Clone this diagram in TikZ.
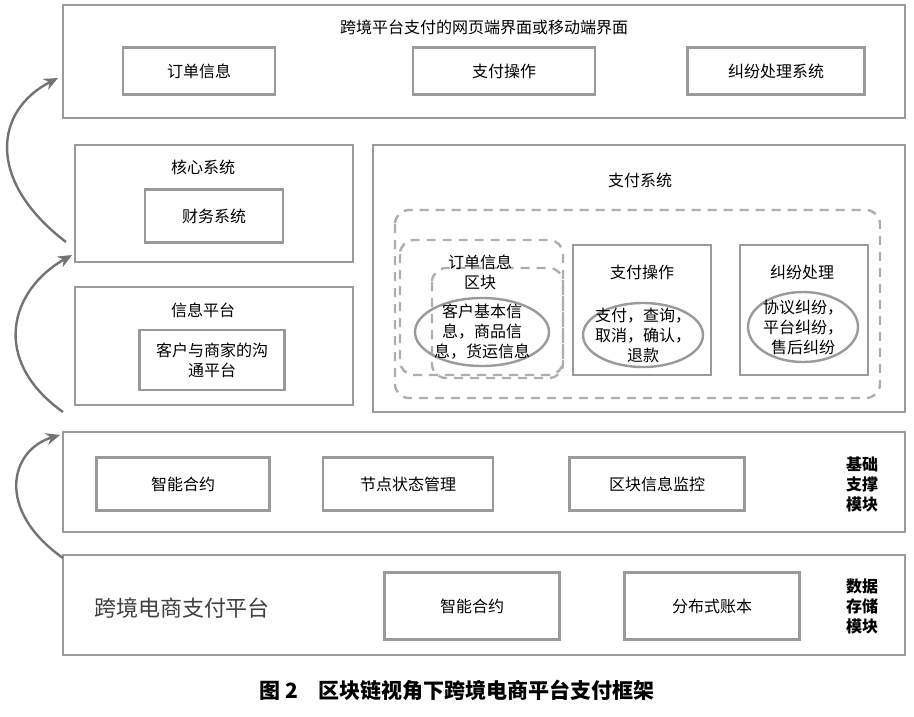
\documentclass[tikz,border=0pt]{standalone}
\usepackage{fontspec}
\setmainfont{Noto Sans CJK SC}
\usetikzlibrary{positioning,arrows.meta,shapes.geometric}
\definecolor{frame}{HTML}{9A9A9A}
\tikzset{
  box/.style={draw=frame,line width=2.4pt,inner sep=0pt},
  dbox/.style={draw=frame!80,line width=2.4pt,dashed,dash pattern=on 9pt off 7pt,rounded corners=14pt},
  oval/.style={draw=frame,line width=2.4pt,ellipse},
  lbl/.style={font=\fontsize{16}{20}\selectfont,align=center},
  flow/.style={draw=gray!90!black,line width=2.4pt,-{Stealth[length=14pt,width=12pt]}}
}
\begin{document}
\begin{tikzpicture}[x=1pt,y=-1pt]
  \useasboundingbox (0,0) rectangle (914,716);
  \fill[white] (0,0) rectangle (914,716);

  %%%% Top: web / mobile interface
  \draw[box] (63,5) rectangle (905,118);
  \node[lbl] (ui) at (484,27) {跨境平台支付的网页端界面或移动端界面};
  \node[box,lbl,minimum width=152pt,minimum height=47pt] (order) at (199,71) {订单信息};
  \node[box,lbl,minimum width=182pt,minimum height=47pt] (pay) at (504,71) {支付操作};
  \node[box,lbl,minimum width=177pt,minimum height=47pt] (dispute) at (776,71) {纠纷处理系统};

  %%%% Core system
  \draw[box] (75,145) rectangle (353,262);
  \node[lbl] (core) at (203,167) {核心系统};
  \node[box,lbl,minimum width=138pt,minimum height=53pt] (finance) at (214,216) {财务系统};

  %%%% Info platform
  \draw[box] (75,287) rectangle (353,405);
  \node[lbl] (info) at (203,310) {信息平台};
  \node[box,lbl,minimum width=145pt,minimum height=60pt] (comm) at (212,360) {客户与商家的沟\\通平台};

  %%%% Payment system
  \draw[box] (373,145) rectangle (905,412);
  \node[lbl] (paysys) at (640,180) {支付系统};
  \draw[dbox] (395,210) rectangle (880,398);
  \draw[dbox] (400,240) rectangle (563,375);
  \draw[dbox] (432,268) rectangle (563,378);
  \node[lbl] (blk) at (480,272) {订单信息\\区块};
  \node[oval,minimum width=134pt,minimum height=68pt] (blkov) at (482,332) {};
  \node[lbl] at (blkov) {客户基本信\\息，商品信\\息，货运信息};

  \draw[box] (573,245) rectangle (711,375);
  \node[lbl] (op) at (642,272) {支付操作};
  \node[oval,minimum width=120pt,minimum height=64pt] (opov) at (643,335) {};
  \node[lbl] at (opov) {支付，查询，\\取消，确认，\\退款};

  \draw[box] (740,245) rectangle (868,375);
  \node[lbl] (dp) at (802,272) {纠纷处理};
  \node[oval,minimum width=110pt,minimum height=70pt] (dpov) at (803,327) {};
  \node[lbl] at (dpov) {协议纠纷，\\平台纠纷，\\售后纠纷};

  %%%% Base support module
  \draw[box] (63,432) rectangle (905,532);
  \node[box,lbl,minimum width=173pt,minimum height=53pt] (contract) at (183,484) {智能合约};
  \node[box,lbl,minimum width=170pt,minimum height=53pt] (node) at (408,484) {节点状态管理};
  \node[box,lbl,minimum width=175pt,minimum height=53pt] (monitor) at (657,484) {区块信息监控};
  \node[lbl,font=\fontsize{16}{20}\selectfont\bfseries] (base) at (862,484) {基础\\支撑\\模块};

  %%%% Data storage module
  \draw[box] (63,555) rectangle (905,655);
  \node[font=\fontsize{22}{26}\selectfont,text=gray!50!black] (plat) at (182,608) {跨境电商支付平台};
  \node[box,lbl,minimum width=175pt,minimum height=67pt] (contract2) at (472,606) {智能合约};
  \node[box,lbl,minimum width=175pt,minimum height=67pt] (ledger) at (712,606) {分布式账本};
  \node[lbl,font=\fontsize{16}{20}\selectfont\bfseries] (store) at (862,606) {数据\\存储\\模块};

  %%%% flow arrows
  \coordinate (a1) at (63,558);  \coordinate (b1) at (60,435);
  \coordinate (a2) at (63,412);  \coordinate (b2) at (72,255);
  \coordinate (a3) at (66,242);  \coordinate (b3) at (58,78);
  \draw[flow] (a1) .. controls (-5,510) and (10,450) .. (b1);
  \draw[flow] (a2) .. controls (-10,360) and (10,290) .. (b2);
  \draw[flow] (a3) .. controls (-15,180) and (-5,110) .. (b3);

  \node[font=\fontsize{21}{26}\selectfont\bfseries] (cap) at (457,690) {图 2\quad 区块链视角下跨境电商平台支付框架};
\end{tikzpicture}
\end{document}
